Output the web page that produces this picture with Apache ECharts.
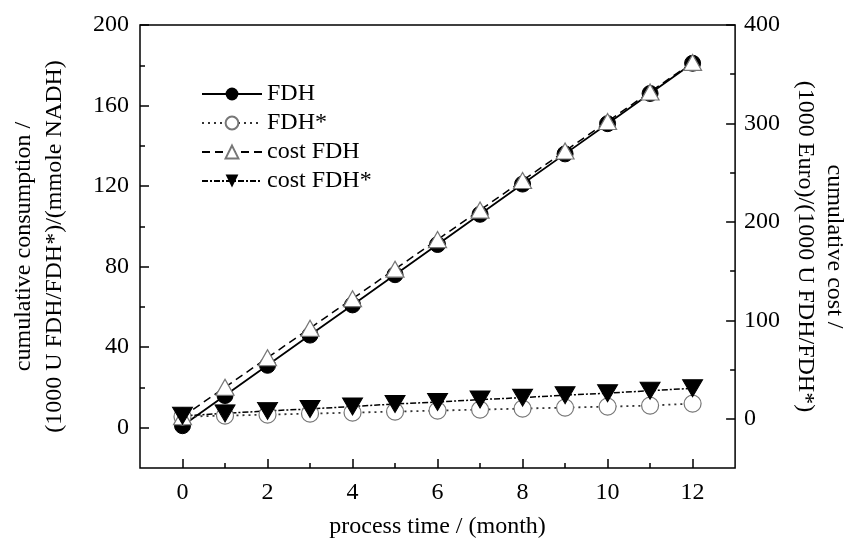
<!DOCTYPE html>
<html>
<head>
<meta charset="utf-8">
<script src="https://cdn.jsdelivr.net/npm/echarts@6/dist/echarts.min.js"></script>
<style>
  html, body { margin: 0; padding: 0; background: #fff; }
  #chart { width: 857px; height: 547px; }
</style>
</head>
<body>
<div id="chart"></div>
<script>
// Data
const months = [0, 1, 2, 3, 4, 5, 6, 7, 8, 9, 10, 11, 12];
const fdh = [1, 16, 31, 46, 61, 76, 91, 106, 121, 136, 151, 166, 181];
const fdhStar = [5.5, 6, 6.5, 7, 7.5, 8, 8.5, 9, 9.5, 10, 10.5, 11, 12];
const costFdh = [2, 32, 62, 92, 122, 152, 182, 212, 242, 272, 302, 332, 362];
const costFdhStar = [3, 5.5, 8, 10, 12.5, 15, 17, 19.5, 21.5, 24, 26, 28.5, 31];

// Tick labels
const xTicks = [0, 2, 4, 6, 8, 10, 12];
const xMinor = [1, 3, 5, 7, 9, 11];
const leftTicks = [0, 40, 80, 120, 160, 200];
const leftMinor = [20, 60, 100, 140, 180];
const rightTicks = [0, 100, 200, 300, 400];
const rightMinor = [50, 150, 250, 350];

const FONT = "Liberation Serif";
const chart = echarts.init(document.getElementById("chart"));

function pairs(ys) {
    return months.map((m, i) => [m, ys[i]]);
}

const labelStyle = { fontFamily: FONT, fontSize: 24, color: "#000" };
const noLine = { show: false, onZero: false };
const tickLine = { color: "#000", width: 1.5 };

chart.setOption({
    animation: false,
    grid: {
        left: 136, right: 118, top: 25, bottom: 79,
        show: true, borderColor: "#000", borderWidth: 1.5,
    },
    legend: {
        orient: "vertical",
        left: 196,
        top: 77,
        itemWidth: 60,
        itemHeight: 16,
        itemGap: 5,
        textStyle: { fontFamily: FONT, fontSize: 24, color: "#000" },
        data: ["FDH", "FDH*", "cost FDH", "cost FDH*"],
    },
    xAxis: [
        {
            type: "value", min: -1, max: 13, position: "bottom",
            name: "process time / (month)",
            nameLocation: "middle", nameGap: 47,
            nameTextStyle: labelStyle,
            axisLine: noLine,
            splitLine: { show: false },
            axisTick: { inside: true, length: 9, customValues: xTicks, lineStyle: tickLine },
            axisLabel: { customValues: xTicks, margin: 13, ...labelStyle },
        },
        {
            type: "value", min: -1, max: 13, position: "bottom",
            axisLine: noLine, splitLine: { show: false },
            axisTick: { inside: true, length: 5, customValues: xMinor, lineStyle: tickLine },
            axisLabel: { show: false },
        },
    ],
    yAxis: [
        {
            type: "value", min: -20, max: 200, position: "left",
            name: "cumulative consumption /\n(1000 U FDH/FDH*)/(mmole NADH)",
            nameLocation: "middle", nameGap: 70,
            nameTextStyle: { ...labelStyle, lineHeight: 31 },
            axisLine: noLine, splitLine: { show: false },
            axisTick: { inside: true, length: 9, customValues: leftTicks, lineStyle: tickLine },
            axisLabel: { customValues: leftTicks, margin: 11, ...labelStyle },
        },
        {
            type: "value", min: -50, max: 400, position: "right",
            name: "cumulative cost /\n(1000 Euro)/(1000 U FDH/FDH*)",
            nameLocation: "middle", nameGap: 55, nameRotate: -90,
            nameTextStyle: { ...labelStyle, lineHeight: 29 },
            axisLine: noLine, splitLine: { show: false },
            axisTick: { inside: true, length: 9, customValues: rightTicks, lineStyle: tickLine },
            axisLabel: { customValues: rightTicks, margin: 9, ...labelStyle },
        },
        {
            type: "value", min: -20, max: 200, position: "left",
            axisLine: noLine, splitLine: { show: false },
            axisTick: { inside: true, length: 5, customValues: leftMinor, lineStyle: tickLine },
            axisLabel: { show: false },
        },
        {
            type: "value", min: -50, max: 400, position: "right",
            axisLine: noLine, splitLine: { show: false },
            axisTick: { inside: true, length: 5, customValues: rightMinor, lineStyle: tickLine },
            axisLabel: { show: false },
        },
    ],
    series: [
        {
            name: "FDH", type: "line", yAxisIndex: 0,
            data: pairs(fdh),
            symbol: "circle", symbolSize: 16,
            itemStyle: { color: "#000", borderColor: "#000" },
            lineStyle: { color: "#000", width: 1.8, type: "solid" },
        },
        {
            name: "FDH*", type: "line", yAxisIndex: 0,
            data: pairs(fdhStar),
            symbol: "circle", symbolSize: 17,
            itemStyle: { color: "#fff", borderColor: "#777", borderWidth: 1.2 },
            lineStyle: { color: "#333", width: 1.8, type: [2, 4] },
        },
        {
            name: "cost FDH", type: "line", yAxisIndex: 1,
            data: pairs(costFdh),
            symbol: "triangle", symbolSize: [18, 16],
            itemStyle: { color: "#fff", borderColor: "#777", borderWidth: 1.2 },
            lineStyle: { color: "#000", width: 1.5, type: [8, 5] },
        },
        {
            name: "cost FDH*", type: "line", yAxisIndex: 1,
            data: pairs(costFdhStar),
            symbol: "triangle", symbolRotate: 180, symbolSize: [20, 17],
            itemStyle: { color: "#000", borderColor: "#000" },
            lineStyle: { color: "#000", width: 1.5, type: [6, 2, 2, 2] },
        },
    ],
});
</script>
</body>
</html>
